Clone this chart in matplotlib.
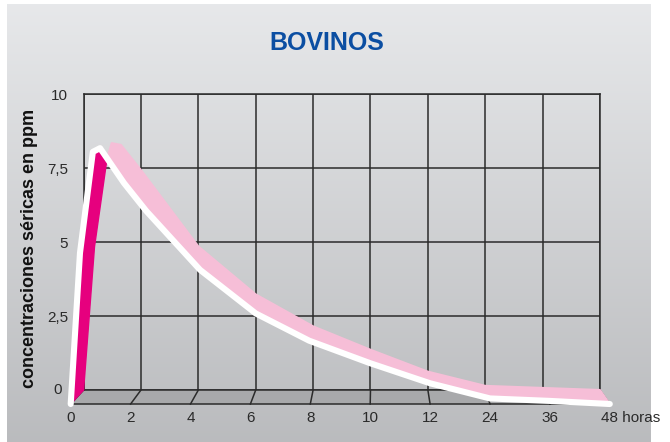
import numpy as np
import matplotlib.pyplot as plt
from matplotlib.patches import Polygon

plt.rcParams['font.family'] = ['Liberation Sans', 'DejaVu Sans']

# datos
tick_hours = [0, 2, 4, 6, 8, 10, 12, 24, 36, 48]
tick_labels = ['0', '2', '4', '6', '8', '10', '12', '24', '36', '']
y_ticks = [0, 2.5, 5, 7.5, 10]
y_labels = ['', '2,5', '5', '7,5', '10']

# borde delantero de la cinta (linea blanca)
front_hours = [0, 0.31, 0.74, 0.98, 1.78, 2.52, 4.32, 6.18, 7.96, 10, 12, 24, 36, 48]
front_ppm = [0, 4.89, 8.16, 8.28, 7.15, 6.25, 4.34, 2.93, 2.05, 1.32, 0.67, 0.18, 0.1, 0.0]
# borde trasero de la cinta (contra la pared del fondo)
back_hours = [0, 0.38, 0.82, 0.98, 1.3, 2, 4, 6, 8, 10, 12, 24, 36, 48]
back_ppm = [0, 4.84, 7.84, 8.34, 8.28, 7.43, 4.85, 3.23, 2.15, 1.36, 0.62, 0.14, 0.07, 0.0]
peak = 3  # indice del maximo

W, H = 670, 442
fig = plt.figure(figsize=(W / 100, H / 100), dpi=100)

# fondo degradado
bg = fig.add_axes([0, 0, 1, 1], zorder=0)
bg.set_xlim(0, W)
bg.set_ylim(H, 0)
bg.axis('off')
grad = np.linspace(0, 1, 256).reshape(-1, 1)
c_top = np.array([0.905, 0.910, 0.918])
c_bot = np.array([0.730, 0.735, 0.745])
img = c_top + (c_bot - c_top) * grad[..., None]
bg.imshow(img, extent=[7, 651, H, 4], aspect='auto', interpolation='bilinear')

def px_box(left, right, top, bottom):
    return [left / W, 1 - bottom / H, (right - left) / W, (bottom - top) / H]

# pared del fondo
ax = fig.add_axes(px_box(83.6, 600, 94, 390), zorder=1)
ax.patch.set_alpha(0)
ax.set_xlim(0, 9)
ax.set_ylim(0, 10)
ax.set_xticks(range(10))
ax.set_xticklabels([])
ax.set_yticks(y_ticks)
ax.set_yticklabels(y_labels, fontsize=11, color='#2a2a2a')
ax.tick_params(length=0, pad=11)
ax.grid(True, color='#2b2b2b', linewidth=1.1)
for s in ax.spines.values():
    s.set_color('#2b2b2b')
    s.set_linewidth(1.1)
ax.annotate('0', xy=(0, 0), xytext=(-22, 0), textcoords='offset pixels',
            ha='right', va='center', fontsize=11, color='#2a2a2a')

# plano delantero
axf = fig.add_axes(px_box(70.7, 609.8, 95, 404), zorder=5)
axf.patch.set_alpha(0)
axf.set_xlim(0, 9)
axf.set_ylim(0, 10)
for s in axf.spines.values():
    s.set_visible(False)
axf.set_yticks([])
axf.set_xticks(range(10))
axf.set_xticklabels(tick_labels, fontsize=11, color='#2a2a2a')
axf.tick_params(length=0, pad=5)
axf.annotate('48 horas', xy=(9, 0), xytext=(-9, -7), textcoords='offset pixels',
             ha='left', va='top', fontsize=11, color='#2a2a2a')

ov = fig.add_axes([0, 0, 1, 1], zorder=3)
ov.set_xlim(0, 1)
ov.set_ylim(0, 1)
ov.axis('off')

inv = fig.transFigure.inverted()
def back(x, y):
    return inv.transform(ax.transData.transform(np.column_stack([x, y])))
def front(x, y):
    return inv.transform(axf.transData.transform(np.column_stack([x, y])))

idx = np.arange(10)

# suelo
zeros = np.zeros(10)
b0 = back(idx, zeros)
f0 = front(idx, zeros)
floor = np.vstack([b0[[0, -1]], f0[[-1, 0]]])
bg.add_patch(Polygon(floor * [W, -H] + [0, H], closed=True,
                     facecolor='#a8a9ab', edgecolor='none'))
for i in range(10):
    ov.plot([b0[i, 0], f0[i, 0]], [b0[i, 1], f0[i, 1]], color='#2b2b2b', lw=1.1, zorder=1)
ov.plot([f0[0, 0], f0[-1, 0]], [f0[0, 1], f0[-1, 1]], color='#2b2b2b', lw=1.1, zorder=1)

# cinta
fx = np.interp(front_hours, tick_hours, idx)
bx = np.interp(back_hours, tick_hours, idx)
fp = front(fx, front_ppm)
bp = back(bx, back_ppm)

ov.add_patch(Polygon(np.vstack([fp[peak:], bp[peak - 1:][::-1]]), closed=True,
                     facecolor='#f6bed7', edgecolor='#f6bed7', lw=1.5,
                     joinstyle='round', zorder=2))
ov.add_patch(Polygon(np.vstack([fp[:peak + 1], bp[:peak][::-1]]), closed=True,
                     facecolor='#e6007e', edgecolor='#e6007e', lw=1, zorder=3))

ov.plot(fp[:, 0], fp[:, 1], color='white', lw=4.4,
        solid_joinstyle='round', solid_capstyle='round', zorder=4)

# textos
fig.text(327 / W, 1 - 43 / H, 'BOVINOS', color='#0b4ea2', fontsize=18,
         fontweight='bold', ha='center', va='center')
fig.text(30 / W, 1 - 248 / H, 'concentraciones séricas en ppm', rotation=90,
         fontsize=13, fontweight='bold', ha='center', va='center', color='#111111')

fig.savefig('out.png', dpi=100)
